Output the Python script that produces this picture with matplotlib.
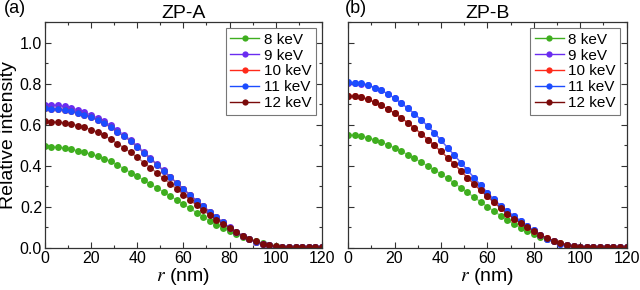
import numpy as np
import matplotlib.pyplot as plt
from matplotlib.ticker import MultipleLocator

plt.rcParams['font.family'] = ['Liberation Sans', 'DejaVu Sans']
plt.rcParams['mathtext.fontset'] = 'stix'

# radial positions of the sampled points (nm)
r = np.linspace(0, 120, 43)

energies = ['8 keV', '9 keV', '10 keV', '11 keV', '12 keV']
colors = ['#3fae1f', '#6a2cf0', '#ff2a1a', '#1c4cff', '#7a0a0a']

tail = [0.005, 0.004, 0.003, 0.003, 0.003, 0.003, 0.003]

# ZP-A
a_8 = [0.494, 0.493, 0.490, 0.486, 0.480, 0.473, 0.465, 0.456, 0.447, 0.435,
       0.421, 0.404, 0.386, 0.367, 0.349, 0.330, 0.311, 0.292, 0.273, 0.253,
       0.233, 0.213, 0.193, 0.172, 0.152, 0.132, 0.113, 0.096, 0.081, 0.068,
       0.055, 0.043, 0.032, 0.022, 0.014, 0.008] + tail
a_9 = [0.698, 0.697, 0.694, 0.689, 0.682, 0.673, 0.662, 0.649, 0.634, 0.617,
       0.597, 0.575, 0.552, 0.526, 0.498, 0.469, 0.439, 0.408, 0.378, 0.347,
       0.317, 0.288, 0.259, 0.231, 0.204, 0.177, 0.151, 0.125, 0.100, 0.078,
       0.059, 0.043, 0.030, 0.020, 0.012, 0.007] + tail
a_10 = [0.680, 0.679, 0.677, 0.672, 0.666, 0.658, 0.648, 0.636, 0.622, 0.606,
        0.587, 0.566, 0.544, 0.520, 0.492, 0.464, 0.435, 0.405, 0.375, 0.345,
        0.316, 0.287, 0.258, 0.230, 0.203, 0.176, 0.150, 0.124, 0.099, 0.077,
        0.058, 0.042, 0.029, 0.019, 0.012, 0.007] + tail
a_11 = [0.680, 0.679, 0.677, 0.672, 0.666, 0.658, 0.648, 0.636, 0.622, 0.606,
        0.587, 0.566, 0.544, 0.520, 0.492, 0.464, 0.435, 0.405, 0.375, 0.345,
        0.316, 0.287, 0.258, 0.230, 0.203, 0.176, 0.150, 0.124, 0.099, 0.077,
        0.058, 0.042, 0.029, 0.019, 0.012, 0.007] + tail
a_12 = [0.616, 0.615, 0.613, 0.609, 0.603, 0.596, 0.587, 0.576, 0.563, 0.548,
        0.529, 0.508, 0.488, 0.465, 0.441, 0.416, 0.391, 0.365, 0.339, 0.313,
        0.287, 0.260, 0.234, 0.208, 0.183, 0.160, 0.138, 0.117, 0.097, 0.078,
        0.060, 0.045, 0.032, 0.021, 0.013, 0.008] + tail

# ZP-B
b_8 = [0.551, 0.549, 0.544, 0.536, 0.526, 0.515, 0.502, 0.487, 0.471, 0.454,
       0.436, 0.418, 0.399, 0.380, 0.360, 0.339, 0.316, 0.293, 0.270, 0.247,
       0.224, 0.201, 0.179, 0.157, 0.136, 0.116, 0.098, 0.082, 0.068, 0.054,
       0.042, 0.032, 0.023, 0.015, 0.009, 0.006] + tail
b_9 = [0.805, 0.804, 0.800, 0.793, 0.781, 0.767, 0.750, 0.729, 0.705, 0.680,
       0.653, 0.624, 0.594, 0.561, 0.525, 0.488, 0.452, 0.416, 0.379, 0.342,
       0.305, 0.269, 0.236, 0.206, 0.180, 0.156, 0.132, 0.108, 0.085, 0.064,
       0.046, 0.032, 0.021, 0.013, 0.008, 0.005] + tail
b_10 = [0.741, 0.738, 0.733, 0.723, 0.709, 0.694, 0.676, 0.656, 0.634, 0.609,
        0.584, 0.556, 0.528, 0.499, 0.470, 0.440, 0.408, 0.375, 0.342, 0.310,
        0.280, 0.251, 0.222, 0.194, 0.167, 0.142, 0.121, 0.101, 0.081, 0.064,
        0.049, 0.036, 0.024, 0.015, 0.009, 0.006] + tail
b_11 = [0.806, 0.805, 0.801, 0.794, 0.781, 0.767, 0.750, 0.729, 0.705, 0.680,
        0.653, 0.624, 0.594, 0.561, 0.525, 0.488, 0.452, 0.416, 0.379, 0.342,
        0.305, 0.269, 0.236, 0.206, 0.180, 0.156, 0.132, 0.108, 0.085, 0.064,
        0.046, 0.032, 0.021, 0.013, 0.008, 0.005] + tail
b_12 = [0.741, 0.738, 0.733, 0.723, 0.709, 0.694, 0.676, 0.656, 0.634, 0.609,
        0.584, 0.556, 0.528, 0.499, 0.470, 0.440, 0.408, 0.375, 0.342, 0.310,
        0.280, 0.251, 0.222, 0.194, 0.167, 0.142, 0.121, 0.101, 0.081, 0.064,
        0.049, 0.036, 0.024, 0.015, 0.009, 0.006] + tail

panels = [('ZP-A', '(a)', [a_8, a_9, a_10, a_11, a_12]),
          ('ZP-B', '(b)', [b_8, b_9, b_10, b_11, b_12])]

fig = plt.figure(figsize=(6.4, 2.9), dpi=100)
boxes = [[0.070, 0.145, 0.433, 0.779], [0.544, 0.145, 0.435, 0.779]]
tag_x = [-0.147, -0.012]

for i, (title, tag, series) in enumerate(panels):
    ax = fig.add_axes(boxes[i])
    for y, c, lab in zip(series, colors, energies):
        ax.plot(r, y, '-', color=c, lw=1.0, alpha=0.55)
        ax.plot(r, y, 'o', color=c, ms=5, mew=0)
        # legend entry
        ax.plot([], [], '-o', color=c, lw=1.0, ms=4.5, mew=0, label=lab)
    ax.set_xlim(0, 120)
    ax.set_ylim(0, 1.1)
    ax.xaxis.set_major_locator(MultipleLocator(20))
    ax.xaxis.set_minor_locator(MultipleLocator(10))
    ax.yaxis.set_major_locator(MultipleLocator(0.2))
    ax.yaxis.set_minor_locator(MultipleLocator(0.1))
    ax.tick_params(which='both', direction='in', top=True, right=True,
                   labelsize=11.5, width=0.8, color='#333333', pad=2)
    ax.tick_params(which='major', length=4)
    ax.tick_params(which='minor', length=2)
    for s in ax.spines.values():
        s.set_color('#333333')
        s.set_linewidth(0.9)
    ax.set_xlabel(r'$r$ (nm)', fontsize=14, labelpad=0)
    ax.set_title(title, fontsize=14, pad=2)
    ax.text(tag_x[i], 1.06, tag, transform=ax.transAxes,
            fontsize=13, ha='left', va='center')
    if i == 0:
        ax.yaxis.set_major_formatter(plt.FormatStrFormatter('%.1f'))
        ax.set_ylabel('Relative intensity', fontsize=14, labelpad=2)
    else:
        ax.set_yticklabels([])
    leg = ax.legend(loc='upper right', fontsize=11, handlelength=1.9,
                    handletextpad=0.3, borderpad=0.3, labelspacing=0.12,
                    fancybox=False, framealpha=1, borderaxespad=0.4)
    leg.get_frame().set_edgecolor('#777777')
    leg.get_frame().set_linewidth(0.8)

fig.savefig('out.png', dpi=100)
